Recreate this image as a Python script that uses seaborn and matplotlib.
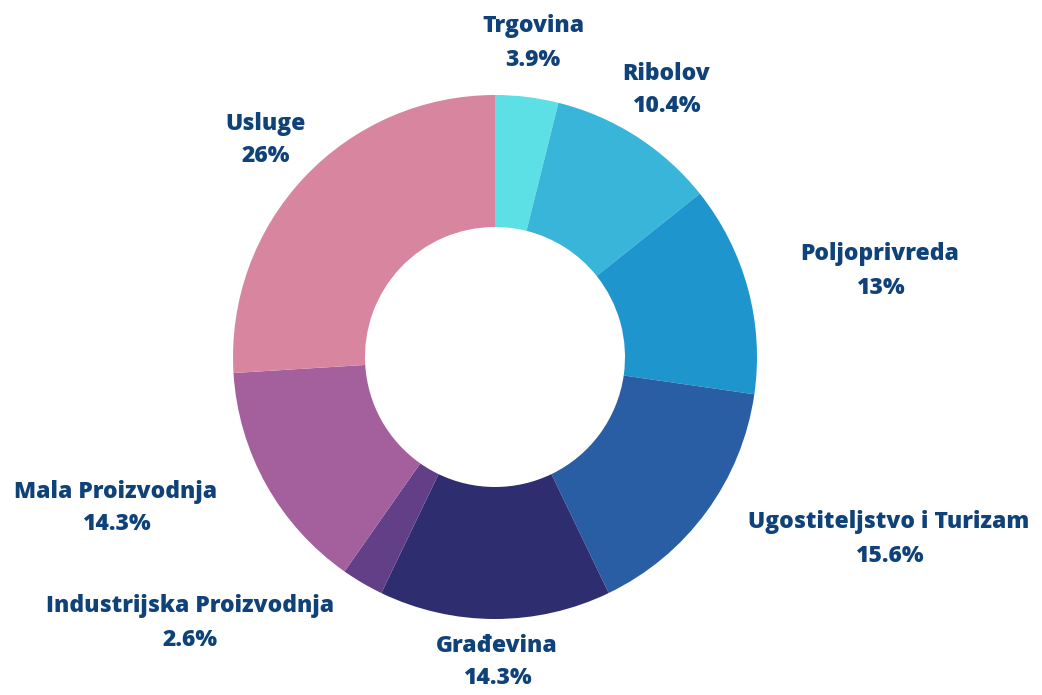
import matplotlib
matplotlib.use("Agg")
import matplotlib.pyplot as plt
import seaborn as sns

# sector shares (%)
sectors = ["Trgovina", "Ribolov", "Poljoprivreda", "Ugostiteljstvo i Turizam",
           "Građevina", "Industrijska Proizvodnja", "Mala Proizvodnja", "Usluge"]
shares = [3.9, 10.4, 13, 15.6, 14.3, 2.6, 14.3, 26]
share_labels = ["3.9%", "10.4%", "13%", "15.6%", "14.3%", "2.6%", "14.3%", "26%"]

colors = ["#5ddfe6", "#38b5d8", "#1f95ce", "#2a5ea4", "#2e2d6f",
          "#633f87", "#a3609c", "#d8869f"]

# label anchor positions in pixels (x, y from top)
label_pos = [(533, 43), (666, 90), (880, 271), (889, 539),
             (497, 662), (190, 623), (116, 508), (266, 140)]

sns.set_theme(style="white")
plt.rcParams["font.family"] = ["Open Sans", "DejaVu Sans"]

W, H = 1042, 695
fig = plt.figure(figsize=(W / 100, H / 100), dpi=100)
ax = fig.add_axes([0, 0, 1, 1])

ax.pie(shares, colors=sns.color_palette(colors), startangle=90, counterclock=False,
       radius=262, center=(495, H - 357),
       wedgeprops=dict(width=132, linewidth=0))

for name, pct, (x, y) in zip(sectors, share_labels, label_pos):
    ax.text(x, H - y, f"{name}\n{pct}", ha="center", va="center",
            fontsize=16.5, fontweight="heavy", color="#10427a", linespacing=1.5)

ax.set_xlim(0, W)
ax.set_ylim(0, H)
ax.set_aspect("equal")
ax.axis("off")

fig.savefig("out.png", dpi=100, facecolor="white")
